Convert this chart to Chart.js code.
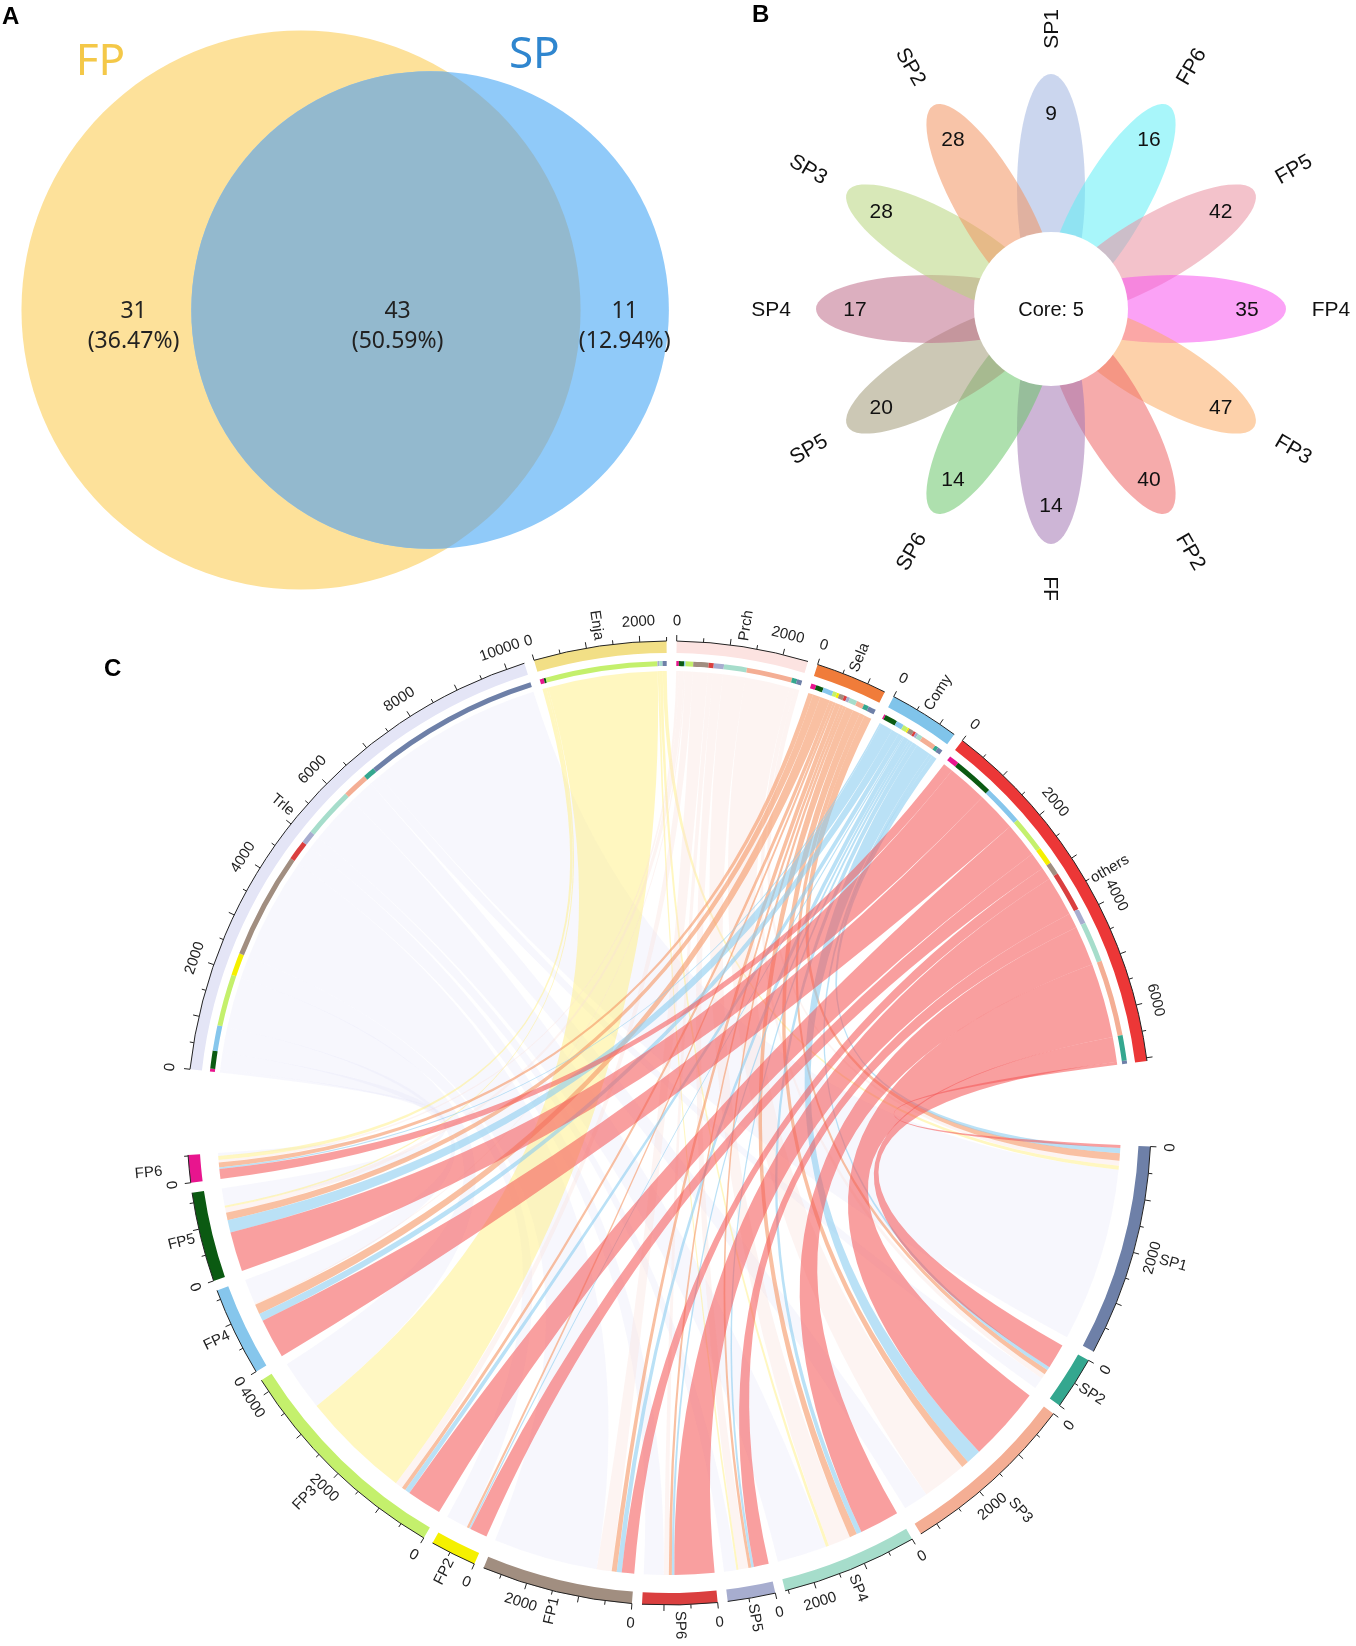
<!DOCTYPE html>
<html>
<head>
<meta charset="utf-8">
<script src="https://cdn.jsdelivr.net/npm/chart.js@4.4.1/dist/chart.umd.min.js"></script>
<style>
  body { margin: 0; background: #fff; }
  #page { position: relative; width: 1356px; height: 1646px; overflow: hidden; font-family: "Liberation Sans", Arial, sans-serif; }
  canvas { position: absolute; }
  .tag { position: absolute; font-weight: bold; font-size: 24px; line-height: 24px; color: #000; }
</style>
</head>
<body>
<div id="page">
  <canvas id="vennChart" width="700" height="620" style="left:0;top:0"></canvas>
  <canvas id="flowerChart" width="666" height="600" style="left:690px;top:0"></canvas>
  <canvas id="chordChart" width="1356" height="1066" style="left:0;top:580px"></canvas>
  <div class="tag" style="left:2px;top:4px">A</div>
  <div class="tag" style="left:752px;top:2px">B</div>
  <div class="tag" style="left:104px;top:656px">C</div>
</div>
<script>
// ---------- A: venn ----------
const vennSets = ['FP', 'SP'];
const vennSetTotals = [74, 54];            // FP = 31 + 43, SP = 43 + 11
const vennRegionCounts = [31, 43, 11];     // FP only, shared, SP only
const vennRegionPct = ['36.47%', '50.59%', '12.94%'];

// ---------- B: flower ----------
const flowerLabels = ['SP1', 'FP6', 'FP5', 'FP4', 'FP3', 'FP2', 'FF', 'SP6', 'SP5', 'SP4', 'SP3', 'SP2'];
const flowerCounts = [9, 16, 42, 35, 47, 40, 14, 14, 20, 17, 28, 28];
const flowerCore = 5;

// ---------- C: chord ----------
const taxa = ['Trle', 'Enja', 'Prch', 'Sela', 'Comy', 'others'];
const samples = ['SP1', 'SP2', 'SP3', 'SP4', 'SP5', 'SP6', 'FP1', 'FP2', 'FP3', 'FP4', 'FP5', 'FP6'];
// reads per taxon going to each sample (same order as samples)
const trleFlow   = [3500, 230, 500, 1000, 250, 400, 2100, 440, 1020, 500, 350, 60];
const enjaFlow   = [80, 0, 0, 60, 40, 0, 0, 0, 2200, 0, 40, 80];
const prchFlow   = [100, 100, 900, 450, 200, 100, 300, 0, 150, 30, 100, 50];
const selaFlow   = [150, 100, 150, 150, 60, 60, 100, 50, 80, 200, 150, 100];
const comyFlow   = [100, 70, 300, 100, 50, 50, 100, 30, 100, 150, 250, 30];
const othersFlow = [60, 500, 1500, 800, 300, 800, 250, 350, 700, 800, 800, 200];

const taxaColors = ['#E4E5F6', '#F2DF86', '#FCE3E1', '#F07C3A', '#80C4EA', '#EC3737'];
const ribbonColors = ['rgba(225,228,248,0.28)', 'rgba(255,240,130,0.5)', 'rgba(250,222,215,0.33)',
                      'rgba(245,150,100,0.6)', 'rgba(140,205,240,0.6)', 'rgba(244,90,90,0.58)'];
const sampleColors = ['#6E80A8', '#34A78F', '#F4AE94', '#A6DDCB', '#A7ADCF', '#DA3F3F',
                      '#A18E80', '#F5F000', '#C4F06C', '#86C6EC', '#0B5A12', '#E8158E'];
const petalColors = ['rgba(160,180,224,.55)', 'rgba(97,239,246,.55)', 'rgba(233,144,160,.55)', 'rgba(248,86,238,.55)',
                     'rgba(251,171,100,.55)', 'rgba(238,102,102,.55)', 'rgba(164,120,180,.55)', 'rgba(108,198,108,.55)',
                     'rgba(162,155,120,.55)', 'rgba(191,109,139,.55)', 'rgba(184,213,126,.55)', 'rgba(242,148,97,.55)'];

// overlap area of two circles
function lensArea(d, r1, r2) {
  if (d >= r1 + r2) return 0;
  if (d <= Math.abs(r1 - r2)) return Math.PI * Math.min(r1, r2) ** 2;
  const a1 = Math.acos((d * d + r1 * r1 - r2 * r2) / (2 * d * r1));
  const a2 = Math.acos((d * d + r2 * r2 - r1 * r1) / (2 * d * r2));
  const k = Math.sqrt((-d + r1 + r2) * (d + r1 - r2) * (d - r1 + r2) * (d + r1 + r2));
  return r1 * r1 * a1 + r2 * r2 * a2 - k / 2;
}
function solveDistance(r1, r2, target) {
  let lo = Math.abs(r1 - r2), hi = r1 + r2;
  for (let i = 0; i < 60; i++) {
    const mid = (lo + hi) / 2;
    if (lensArea(mid, r1, r2) > target) lo = mid; else hi = mid;
  }
  return (lo + hi) / 2;
}

const vennPlugin = {
  id: 'venn',
  afterDatasetsDraw(chart) {
    const { ctx, scales: { x, y } } = chart;
    const r1 = Math.sqrt(vennSetTotals[0] / Math.PI);
    const r2 = Math.sqrt(vennSetTotals[1] / Math.PI);
    const d = solveDistance(r1, r2, vennRegionCounts[1]);
    const k = x.getPixelForValue(1) - x.getPixelForValue(0);
    const c1 = { x: x.getPixelForValue(0), y: y.getPixelForValue(0), r: r1 * k };
    const c2 = { x: x.getPixelForValue(d), y: y.getPixelForValue(0), r: r2 * k };
    const disc = (c) => { ctx.beginPath(); ctx.arc(c.x, c.y, c.r, 0, Math.PI * 2); };
    ctx.save();
    disc(c1); ctx.fillStyle = '#FDE19A'; ctx.fill();
    disc(c2); ctx.fillStyle = '#90CAF9'; ctx.fill();
    ctx.save(); disc(c1); ctx.clip(); disc(c2); ctx.fillStyle = '#93B9CE'; ctx.fill(); ctx.restore();

    // set names
    ctx.font = '44px "Noto Sans"';
    ctx.textAlign = 'center'; ctx.textBaseline = 'middle';
    const a1 = -129 * Math.PI / 180, a2 = -67.7 * Math.PI / 180;
    ctx.fillStyle = '#F4C848';
    ctx.fillText(vennSets[0], c1.x + 1.14 * c1.r * Math.cos(a1), c1.y + 1.14 * c1.r * Math.sin(a1));
    ctx.fillStyle = '#2F86CF';
    ctx.fillText(vennSets[1], c2.x + 1.15 * c2.r * Math.cos(a2), c2.y + 1.15 * c2.r * Math.sin(a2));

    // region counts
    const left1 = -r1, left2 = d - r2, right1 = r1, right2 = d + r2;
    const xs = [left1 + 0.66 * (left2 - left1), left2 + 0.53 * (right1 - left2), (right1 + right2) / 2];
    ctx.fillStyle = '#222';
    ctx.font = '23px "Noto Sans"';
    xs.forEach((xv, i) => {
      const px = x.getPixelForValue(xv);
      ctx.fillText(String(vennRegionCounts[i]), px, y.getPixelForValue(-0.03));
      ctx.fillText('(' + vennRegionPct[i] + ')', px, y.getPixelForValue(-0.55));
    });
    ctx.restore();
  }
};

new Chart(document.getElementById('vennChart'), {
  type: 'scatter',
  data: { datasets: [] },
  options: {
    responsive: false, animation: false, events: [],
    layout: { padding: 0 },
    scales: {
      x: { display: false, min: -5.226, max: 6.927 },
      y: { display: false, min: -5.38, max: 5.38 }
    },
    plugins: { legend: { display: false }, tooltip: { enabled: false } }
  },
  plugins: [vennPlugin]
});

// ---------- flower ----------
const flowerPlugin = {
  id: 'flower',
  afterDatasetsDraw(chart) {
    const { ctx, scales: { x, y } } = chart;
    const n = flowerLabels.length;
    const unit = x.getPixelForValue(1) - x.getPixelForValue(0);
    const pt = (r, th) => [x.getPixelForValue(r * Math.cos(th)), y.getPixelForValue(r * Math.sin(th))];
    ctx.save();
    flowerLabels.forEach((lab, i) => {
      const th = (-90 + i * 360 / n) * Math.PI / 180;
      const [ex, ey] = pt(120, th);
      ctx.beginPath();
      ctx.ellipse(ex, ey, 115 * unit, 34 * unit, th, 0, Math.PI * 2);
      ctx.fillStyle = petalColors[i];
      ctx.fill();
    });
    const [ox, oy] = pt(0, 0);
    ctx.beginPath(); ctx.arc(ox, oy, 77 * unit, 0, Math.PI * 2);
    ctx.fillStyle = '#fff'; ctx.fill();

    ctx.fillStyle = '#111';
    ctx.textAlign = 'center'; ctx.textBaseline = 'middle';
    ctx.font = '20px "Liberation Sans"';
    ctx.fillText('Core: ' + flowerCore, ox, oy + 1);
    ctx.font = '21px "Liberation Sans"';
    flowerLabels.forEach((lab, i) => {
      const deg = -90 + i * 360 / n;
      const th = deg * Math.PI / 180;
      const [cx, cy] = pt(196, th);
      ctx.fillText(String(flowerCounts[i]), cx, cy + 1);
      const [lx, ly] = pt(280, th);
      const rot = (deg > 90 && deg < 270) ? deg - 180 : deg;
      ctx.save();
      ctx.translate(lx, ly);
      ctx.rotate(rot * Math.PI / 180);
      ctx.fillText(lab, 0, 1);
      ctx.restore();
    });
    ctx.restore();
  }
};

new Chart(document.getElementById('flowerChart'), {
  type: 'scatter',
  data: { datasets: [] },
  options: {
    responsive: false, animation: false, events: [],
    layout: { padding: 0 },
    scales: {
      x: { display: false, min: -361, max: 305 },
      y: { display: false, min: -309, max: 291, reverse: true }
    },
    plugins: { legend: { display: false }, tooltip: { enabled: false } }
  },
  plugins: [flowerPlugin]
});

// ---------- chord ----------
const flows = [trleFlow, enjaFlow, prchFlow, selaFlow, comyFlow, othersFlow];
const taxaTotals = flows.map(r => r.reduce((a, b) => a + b, 0));
const sampleTotals = samples.map((s, j) => flows.reduce((a, r) => a + r[j], 0));
const grand = taxaTotals.reduce((a, b) => a + b, 0) + sampleTotals.reduce((a, b) => a + b, 0);
const GAP_SMALL = 1.2, GAP_BIG = 10.2, START_DEG = 186.4;
const nSmall = (taxa.length - 1) + (samples.length - 1);
const unitPerDeg = grand / (360 - 2 * GAP_BIG - nSmall * GAP_SMALL);
const gapS = GAP_SMALL * unitPerDeg, gapB = GAP_BIG * unitPerDeg;

const outerVals = [], outerCols = [], sectorInfo = [];
const innerVals = [], innerCols = [];
const topIdx = taxa.map(() => ({}));
const botIdx = samples.map(() => ({}));
const clear = 'rgba(0,0,0,0)';
function pushGap(v) {
  outerVals.push(v); outerCols.push(clear); sectorInfo.push(null);
  innerVals.push(v); innerCols.push(clear);
}
taxa.forEach((t, i) => {
  outerVals.push(taxaTotals[i]); outerCols.push(taxaColors[i]); sectorInfo.push({ name: t, total: taxaTotals[i] });
  for (let j = samples.length - 1; j >= 0; j--) {
    if (flows[i][j] > 0) { topIdx[i][j] = innerVals.length; innerVals.push(flows[i][j]); innerCols.push(sampleColors[j]); }
  }
  pushGap(i < taxa.length - 1 ? gapS : gapB);
});
samples.forEach((s, j) => {
  outerVals.push(sampleTotals[j]); outerCols.push(sampleColors[j]); sectorInfo.push({ name: s, total: sampleTotals[j] });
  for (let i = taxa.length - 1; i >= 0; i--) {
    if (flows[i][j] > 0) { botIdx[j][i] = innerVals.length; innerVals.push(flows[i][j]); innerCols.push(clear); }
  }
  pushGap(j < samples.length - 1 ? gapS : gapB);
});

function norm(a) { a %= 2 * Math.PI; return a < 0 ? a + 2 * Math.PI : a; }
function tangentRot(a) {
  let r = norm(a + Math.PI / 2);
  if (r > Math.PI / 2 && r < 3 * Math.PI / 2) r -= Math.PI;
  return r;
}

const chordPlugin = {
  id: 'chord',
  afterDatasetsDraw(chart) {
    const ctx = chart.ctx;
    const outerMeta = chart.getDatasetMeta(0), innerMeta = chart.getDatasetMeta(2);
    const first = outerMeta.data[0];
    const cx = first.x, cy = first.y, rAxis = first.outerRadius;
    const rRib = innerMeta.data[0].innerRadius - 5;
    ctx.save();

    // ribbons
    flows.forEach((row, i) => {
      ctx.fillStyle = ribbonColors[i];
      row.forEach((v, j) => {
        if (!v) return;
        const a = innerMeta.data[topIdx[i][j]], b = innerMeta.data[botIdx[j][i]];
        ctx.beginPath();
        ctx.arc(cx, cy, rRib, a.startAngle, a.endAngle);
        ctx.quadraticCurveTo(cx, cy, cx + rRib * Math.cos(b.startAngle), cy + rRib * Math.sin(b.startAngle));
        ctx.arc(cx, cy, rRib, b.startAngle, b.endAngle);
        ctx.quadraticCurveTo(cx, cy, cx + rRib * Math.cos(a.startAngle), cy + rRib * Math.sin(a.startAngle));
        ctx.closePath();
        ctx.fill();
      });
    });

    // axes, ticks, labels
    ctx.strokeStyle = '#222'; ctx.fillStyle = '#222'; ctx.lineWidth = 1;
    ctx.font = '15px "Liberation Sans"';
    outerMeta.data.forEach((el, k) => {
      const info = sectorInfo[k];
      if (!info) return;
      const a0 = el.startAngle, a1 = el.endAngle;
      const mid = (a0 + a1) / 2;
      let nameR = rAxis + 6;
      ctx.beginPath(); ctx.arc(cx, cy, rAxis, a0, a1); ctx.stroke();
      for (let v = 0; v <= info.total; v += 500) {
        const ang = a0 + (a1 - a0) * v / info.total;
        const len = v % 1000 === 0 ? 6 : 4;
        ctx.beginPath();
        ctx.moveTo(cx + rAxis * Math.cos(ang), cy + rAxis * Math.sin(ang));
        ctx.lineTo(cx + (rAxis + len) * Math.cos(ang), cy + (rAxis + len) * Math.sin(ang));
        ctx.stroke();
        if (v % 2000 === 0) {
          // sector name moves outward when a tick label sits right under it
          if (Math.abs(ang - mid) < 2.6 * Math.PI / 180) nameR = rAxis + 27;
          ctx.save();
          ctx.translate(cx + (rAxis + 20) * Math.cos(ang), cy + (rAxis + 20) * Math.sin(ang));
          ctx.rotate(tangentRot(ang));
          ctx.textAlign = 'center'; ctx.textBaseline = 'middle';
          ctx.fillText(String(v), 0, 0);
          ctx.restore();
        }
      }
      const m = norm(mid);
      const flip = m > Math.PI / 2 && m < 3 * Math.PI / 2;
      ctx.save();
      ctx.translate(cx + nameR * Math.cos(m), cy + nameR * Math.sin(m));
      ctx.rotate(flip ? m - Math.PI : m);
      ctx.textAlign = flip ? 'right' : 'left'; ctx.textBaseline = 'middle';
      ctx.fillText(info.name, 0, 0);
      ctx.restore();
    });
    ctx.restore();
  }
};

new Chart(document.getElementById('chordChart'), {
  type: 'doughnut',
  data: {
    datasets: [
      { data: outerVals, backgroundColor: outerCols, borderWidth: 0, weight: 12 },
      { data: [1], backgroundColor: [clear], borderWidth: 0, weight: 8 },
      { data: innerVals, backgroundColor: innerCols, borderWidth: 0, weight: 5 }
    ]
  },
  options: {
    responsive: false, animation: false, events: [],
    rotation: START_DEG + 90,
    radius: 482,
    cutout: 457,
    layout: { padding: { left: 187, right: 205, top: 61, bottom: 41 } },
    plugins: { legend: { display: false }, tooltip: { enabled: false } }
  },
  plugins: [chordPlugin]
});
</script>
</body>
</html>
